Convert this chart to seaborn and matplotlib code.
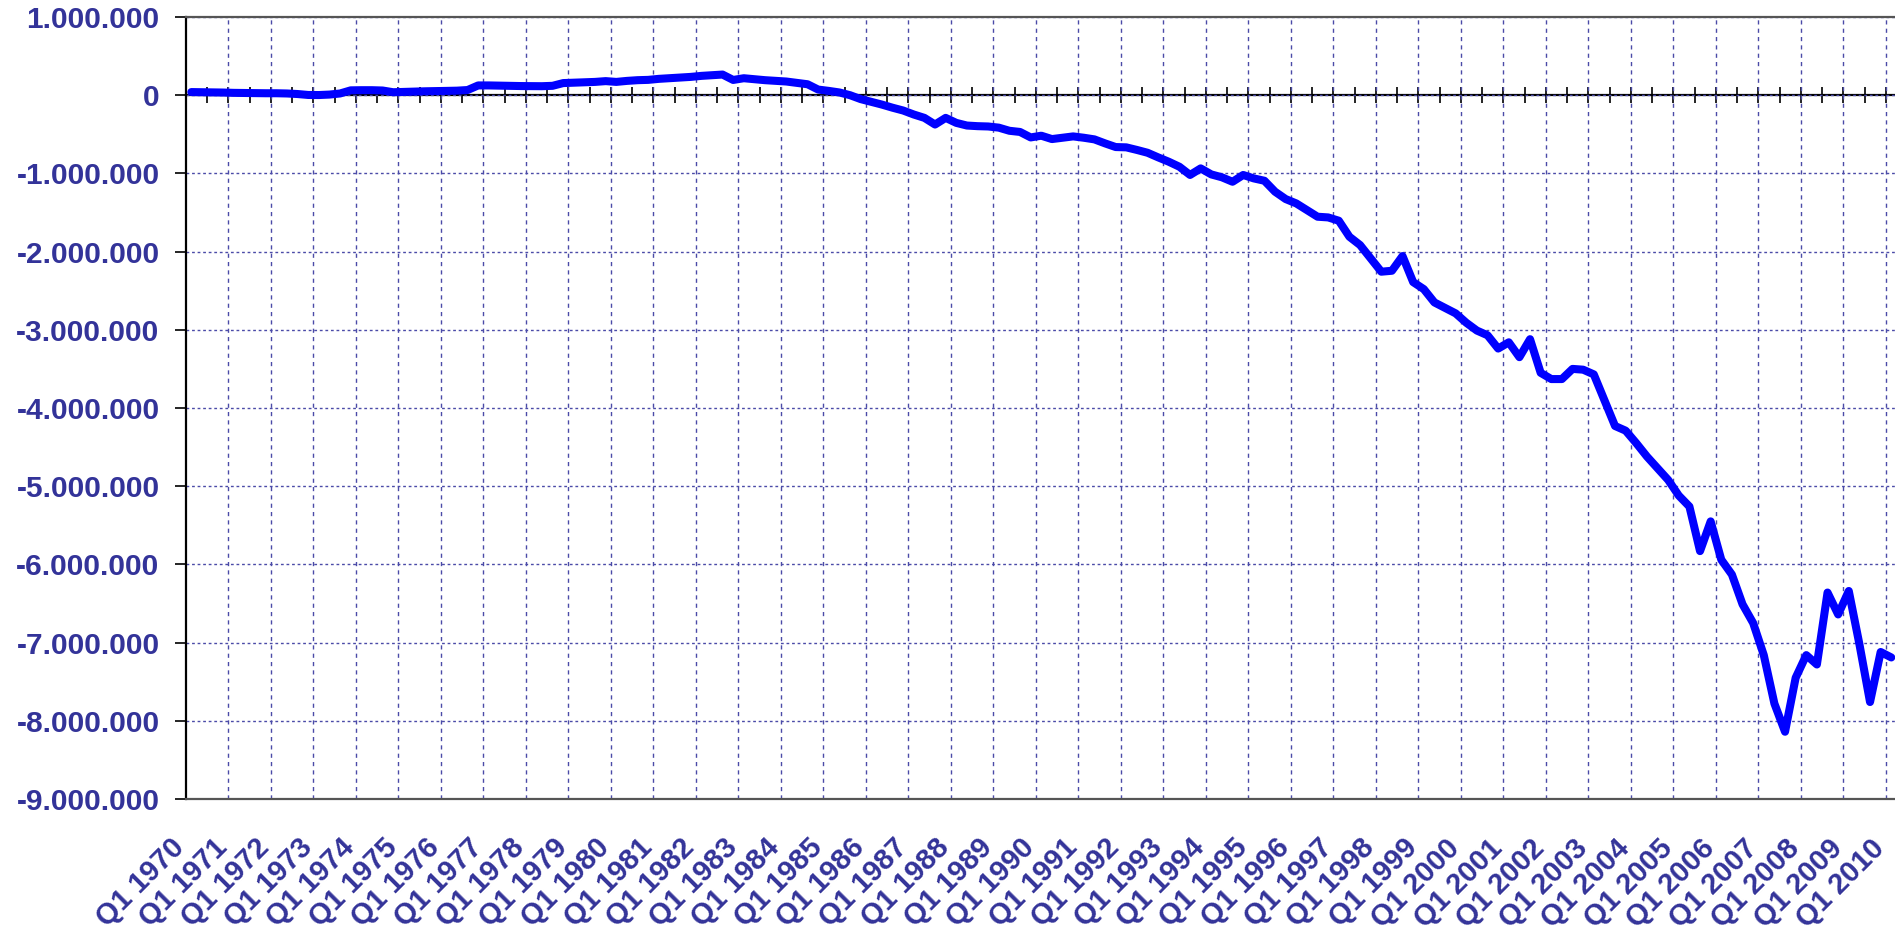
import numpy as np
import matplotlib
matplotlib.use('Agg')
import matplotlib.pyplot as plt
import seaborn as sns
from matplotlib.ticker import FuncFormatter, NullFormatter
from matplotlib.transforms import ScaledTranslation

# quarterly series, Q1 1970 .. Q1 2010, in thousands
years = list(range(1970, 2011))
quarters = [f'Q{q} {y}' for y in years for q in (1, 2, 3, 4)][:161]
year_labels = [f'Q1 {y}' for y in years]

values_k = [
    40, 38, 36, 34, 30, 28, 26, 25, 25, 22, 15, 3,
    2, 8, 22, 62, 64, 64, 60, 38, 42, 46, 50, 52,
    55, 58, 66, 125, 125, 122, 119, 117, 116, 115, 120, 155,
    160, 165, 170, 180, 170, 183, 192, 196, 209, 217, 226, 234,
    247, 256, 264, 195, 217, 204, 192, 183, 175, 158, 140, 72,
    55, 35, 0, -50, -85, -120, -160, -196, -247, -290, -375, -290,
    -354, -388, -396, -400, -415, -455, -470, -540, -518, -561, -544, -527,
    -544, -565, -616, -663, -667, -700, -736, -795, -851, -915, -1020, -936,
    -1013, -1050, -1107, -1020, -1064, -1094, -1234, -1328, -1384, -1469, -1554, -1563,
    -1605, -1810, -1916, -2087, -2257, -2245, -2057, -2390, -2480, -2650, -2720, -2790,
    -2910, -3010, -3070, -3240, -3160, -3350, -3120, -3550, -3630, -3630, -3500, -3510,
    -3570, -3900, -4230, -4290, -4450, -4620, -4770, -4920, -5120, -5260, -5830, -5450,
    -5940, -6130, -6510, -6750, -7160, -7780, -8140, -7450, -7160, -7280, -6360, -6640,
    -6340, -7020, -7760, -7120, -7190,
]

label_color = '#333399'
grid_color = '#4b4ba8'

sns.set_style('white')
plt.rcParams['font.family'] = ['Liberation Sans', 'DejaVu Sans']
plt.rcParams['font.weight'] = 'bold'

fig = plt.figure(figsize=(18.95, 9.39), dpi=100)
ax = fig.add_axes([186 / 1895, 1 - 799 / 939, 1 - 186 / 1895, (799 - 17) / 939])

xpos = np.arange(len(values_k))
sns.lineplot(x=xpos, y=np.array(values_k) * 1000, color='#0000FF', linewidth=5.8,
             ax=ax, solid_joinstyle='round', solid_capstyle='round', zorder=5)

ax.set_xlim(-0.5, 160.35)
ax.set_ylim(-9e6, 1e6)

# y axis
ax.set_yticks(np.arange(-9e6, 1.01e6, 1e6))
ax.yaxis.set_major_formatter(FuncFormatter(lambda v, p: f'{int(round(v)):,}'.replace(',', '.')))
ax.tick_params(axis='y', direction='out', length=8, width=1.2, color='black', pad=11,
               labelsize=21.5, labelcolor=label_color, left=True)
ax.grid(axis='y', which='major', color=grid_color, linestyle=(0, (2, 2)), linewidth=1.0)

# x axis: labels at Q1 of each year, gridlines at year boundaries
ax.set_xticks(xpos[::4])
ax.set_xticklabels(year_labels, rotation=45, ha='right', va='top')
ax.tick_params(axis='x', which='major', length=0, pad=25, labelsize=21, labelcolor=label_color)
ax.set_xticks(np.arange(3.5, 160, 4), minor=True)
ax.tick_params(axis='x', which='minor', length=0)
ax.grid(axis='x', which='minor', color=grid_color, linestyle=(0, (3, 3)), linewidth=1.0)
offset = ScaledTranslation(-1 / 100, 0, fig.dpi_scale_trans)
for lab in ax.get_xticklabels():
    lab.set_transform(lab.get_transform() + offset)

for side in ['top', 'bottom']:
    ax.spines[side].set_color('#555555')
    ax.spines[side].set_linewidth(1.6)
ax.spines['left'].set_color('black')
ax.spines['left'].set_linewidth(1.6)
ax.spines['right'].set_visible(False)

# zero line with cross tick marks
zero = ax.secondary_xaxis(0.9)
zero.set_xticks(np.arange(1.5, 160.4, 2))
zero.xaxis.set_major_formatter(NullFormatter())
zero.tick_params(direction='inout', length=11, width=1.2, color='black')
zero.spines['top'].set_color('black')
zero.spines['top'].set_linewidth(1.6)

fig.savefig('out.png', dpi=100)
